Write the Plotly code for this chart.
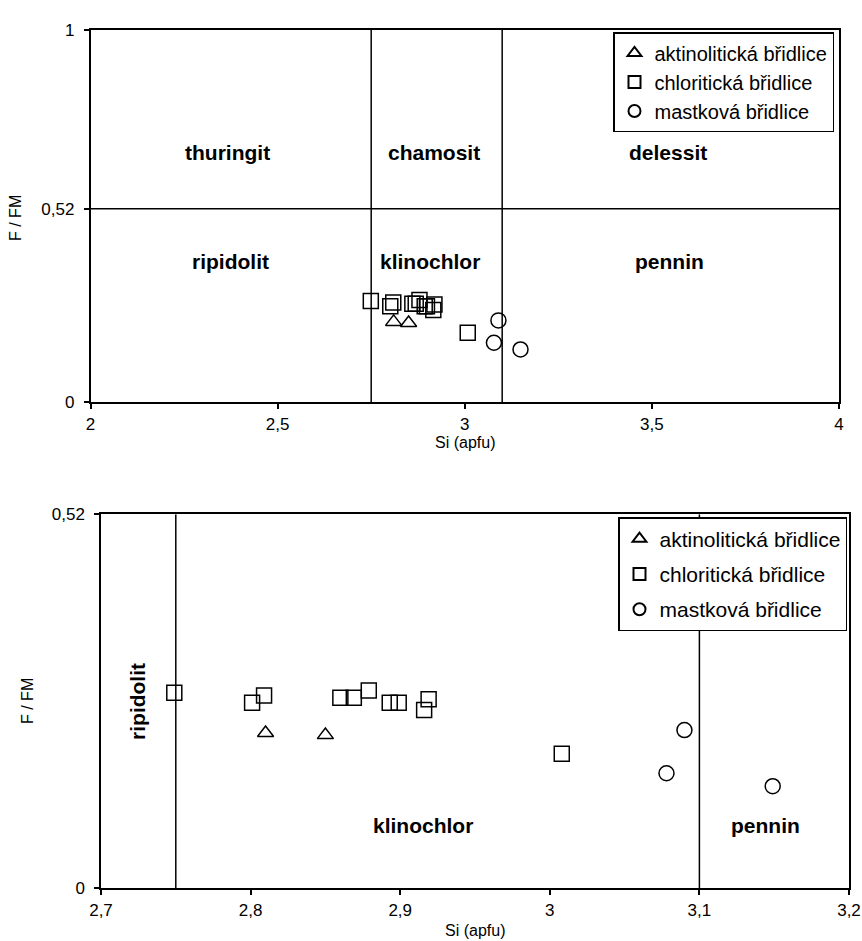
import plotly.graph_objects as go

# Chlorite analyses: Si (apfu) vs. F/FM, grouped by host rock
akt_si = [2.810, 2.850]
akt_ffm = [0.216, 0.213]

chl_si = [2.749, 2.801, 2.809, 2.860, 2.869, 2.879, 2.893, 2.899, 2.919, 2.916, 3.008]
chl_ffm = [0.272, 0.258, 0.268, 0.265, 0.265, 0.275, 0.258, 0.258, 0.263, 0.248, 0.187]

mst_si = [3.090, 3.078, 3.149]
mst_ffm = [0.220, 0.160, 0.142]

series_names = ["aktinolitická břidlice", "chloritická břidlice", "mastková břidlice"]
series_symbols = ["triangle-up-open", "square-open", "circle-open"]
series_sizes = [14, 15, 15]

# Classification boundaries (Hey 1954)
si_bounds = [2.75, 3.1]
ffm_bound = 0.52

# Field names: upper diagram
top_field_names = ["thuringit", "chamosit", "delessit", "ripidolit", "klinochlor", "pennin"]
top_field_si = [2.365, 2.918, 3.543, 2.375, 2.907, 3.548]
top_field_ffm = [0.672, 0.672, 0.672, 0.378, 0.378, 0.378]

# Field names: lower (detail) diagram
bot_field_names = ["ripidolit", "klinochlor", "pennin"]
bot_field_si = [2.7245, 2.9152, 3.1445]
bot_field_ffm = [0.260, 0.087, 0.087]
bot_field_angle = [-90, 0, 0]

# Axis ticks
top_x_vals = [2, 2.5, 3, 3.5, 4]
top_x_text = ["2", "2,5", "3", "3,5", "4"]
top_y_vals = [0, 0.52, 1]
top_y_text = ["0", "0,52", "1"]
bot_x_vals = [2.7, 2.8, 2.9, 3.0, 3.1, 3.2]
bot_x_text = ["2,7", "2,8", "2,9", "3", "3,1", "3,2"]
bot_y_vals = [0, 0.52]
bot_y_text = ["0", "0,52"]

W, H = 862, 941
FONT = "Liberation Sans, Arial, sans-serif"

fig = go.Figure()

series = [(akt_si, akt_ffm), (chl_si, chl_ffm), (mst_si, mst_ffm)]
for i, (xs, ys) in enumerate(series):
    for axis_pair, legend_id in (("1", "legend"), ("2", "legend2")):
        fig.add_trace(go.Scatter(
            x=xs, y=ys, mode="markers", name=series_names[i],
            xaxis="x" if axis_pair == "1" else "x2",
            yaxis="y" if axis_pair == "1" else "y2",
            legend=legend_id,
            legendgroup=f"{legend_id}-{i}",
            marker=dict(symbol=series_symbols[i], size=series_sizes[i],
                        color="black", line=dict(color="black", width=1.5)),
        ))


def px_x(p):
    return p / W


def px_y(p):
    return 1 - p / H


axis_common = dict(
    showline=True, mirror=True, linecolor="black", linewidth=1.5,
    ticks="outside", ticklen=5, tickwidth=1.5, tickcolor="black",
    showgrid=False, zeroline=False, automargin=False,
    tickfont=dict(family=FONT, size=17, color="black"),
)

fig.update_layout(
    template="none",
    width=W, height=H,
    margin=dict(l=0, r=0, t=0, b=0, pad=0),
    paper_bgcolor="white", plot_bgcolor="white",
    font=dict(family=FONT, color="black"),
    xaxis=dict(domain=[px_x(90.5), px_x(839)], range=[2, 4], anchor="y",
               tickvals=top_x_vals, ticktext=top_x_text, ticklabelstandoff=1,
               **axis_common),
    yaxis=dict(domain=[px_y(402.3), px_y(30)], range=[0, 1], anchor="x",
               tickvals=top_y_vals, ticktext=top_y_text, ticklabelstandoff=6,
               **axis_common),
    xaxis2=dict(domain=[px_x(101), px_x(849)], range=[2.7, 3.2], anchor="y2",
                tickvals=bot_x_vals, ticktext=bot_x_text, ticklabelstandoff=1,
                **axis_common),
    yaxis2=dict(domain=[px_y(888.3), px_y(514.3)], range=[0, 0.52], anchor="x2",
                tickvals=bot_y_vals, ticktext=bot_y_text, ticklabelstandoff=6,
                **axis_common),
    legend=dict(x=px_x(834), y=px_y(32), xanchor="right", yanchor="top",
                bgcolor="white", bordercolor="black", borderwidth=1.5,
                font=dict(family=FONT, size=20, color="black"),
                itemsizing="constant", itemwidth=30, tracegroupgap=0),
    legend2=dict(x=px_x(847), y=px_y(517), xanchor="right", yanchor="top",
                 bgcolor="white", bordercolor="black", borderwidth=1.5,
                 font=dict(family=FONT, size=21, color="black"),
                 itemsizing="constant", itemwidth=30, tracegroupgap=5),
)

# Boundary lines
shapes = []
for s in si_bounds:
    shapes.append(dict(type="line", xref="x", yref="y", x0=s, x1=s, y0=0, y1=1,
                       line=dict(color="black", width=1.5)))
    shapes.append(dict(type="line", xref="x2", yref="y2", x0=s, x1=s, y0=0, y1=ffm_bound,
                       line=dict(color="black", width=1.5)))
shapes.append(dict(type="line", xref="x", yref="y", x0=2, x1=4, y0=ffm_bound, y1=ffm_bound,
                   line=dict(color="black", width=1.5)))
fig.update_layout(shapes=shapes)

annotations = []
label_font = dict(family=FONT, size=21, color="black")
for name, xs, ys in zip(top_field_names, top_field_si, top_field_ffm):
    annotations.append(dict(x=xs, y=ys, xref="x", yref="y", text=f"<b>{name}</b>",
                            xanchor="center", yanchor="middle",
                            showarrow=False, font=label_font))
for name, xs, ys, ang in zip(bot_field_names, bot_field_si, bot_field_ffm, bot_field_angle):
    annotations.append(dict(x=xs, y=ys, xref="x2", yref="y2", text=f"<b>{name}</b>",
                            xanchor="center", yanchor="middle",
                            textangle=ang, showarrow=False, font=label_font))

# Axis titles
title_font = dict(family=FONT, size=16, color="black")
for tx, ty, txt, ang in [(465, 443, "Si (apfu)", 0), (475, 930, "Si (apfu)", 0),
                         (16, 218, "F / FM", -90), (27, 701, "F / FM", -90)]:
    annotations.append(dict(x=px_x(tx), y=px_y(ty), xref="paper", yref="paper",
                            text=txt, textangle=ang, xanchor="center", yanchor="middle",
                            showarrow=False, font=title_font))
fig.update_layout(annotations=annotations)

fig.write_html("out.html")
